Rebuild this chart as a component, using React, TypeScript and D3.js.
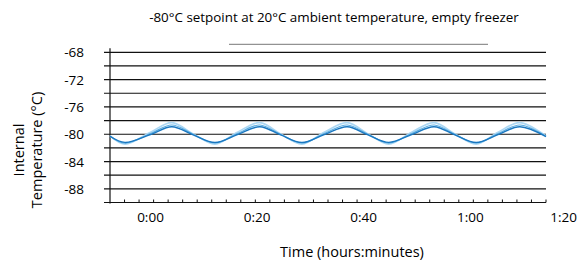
import { useEffect, useRef } from "react";
import * as d3 from "d3";

// time in minutes from 0:00
const times = [-7.6, -4.8, 0.0, 4.0, 8.0, 12.1, 16.3, 20.5, 24.4, 28.4, 32.6, 36.9, 40.8, 44.7, 49.0, 53.2, 57.1, 61.1, 65.2, 69.3, 74.2];

// three probes
const probeDark = [-80.3, -81.2, -80.05, -78.9, -80.1, -81.2, -80.05, -78.9, -80.1, -81.2, -80.05, -78.9, -80.1, -81.2, -80.05, -78.9, -80.1, -81.2, -80.05, -78.9, -80.35];
const probeMid = [-80.3, -81.3, -79.9, -78.65, -80.0, -81.3, -79.9, -78.65, -80.0, -81.3, -79.9, -78.65, -80.0, -81.3, -79.9, -78.65, -80.0, -81.3, -79.9, -78.65, -80.3];
const probeLight = [-80.2, -81.45, -79.7, -78.3, -79.95, -81.45, -79.7, -78.3, -79.95, -81.45, -79.7, -78.3, -79.95, -81.45, -79.7, -78.3, -79.95, -81.45, -79.7, -78.3, -80.25];

const yTickLabels = [-68, -72, -76, -80, -84, -88];
const yGrid = [-68, -70, -72, -74, -76, -78, -80, -82, -84, -86, -88];
const xTickLabels = ["0:00", "0:20", "0:40", "1:00", "1:20"];
const xTickValues = [0, 20, 40, 60, 80];

const title = "-80°C setpoint at 20°C ambient temperature, empty freezer";

export default function App() {
    const ref = useRef<SVGSVGElement>(null);

    useEffect(() => {
        const svg = d3.select(ref.current);
        svg.selectAll("*").remove();

        const font = "'Open Sans', sans-serif";
        const x = d3.scaleLinear().domain([-7.6, 74.2]).range([110, 546]);
        const y = d3.scaleLinear().domain([-90, -68]).range([202.5, 52.3]);

        svg.append("text")
            .attr("x", 334).attr("y", 22)
            .attr("text-anchor", "middle")
            .attr("font-family", font).attr("font-size", 13.4)
            .text(title);

        // stray grey rule under the title
        svg.append("line")
            .attr("x1", 229).attr("x2", 488).attr("y1", 44.3).attr("y2", 44.3)
            .attr("stroke", "#777").attr("stroke-width", 1);

        // horizontal grid
        svg.append("g").selectAll("line")
            .data(yGrid)
            .join("line")
            .attr("x1", 104).attr("x2", 546)
            .attr("y1", d => y(d)).attr("y2", d => y(d))
            .attr("stroke", "#111").attr("stroke-width", 1.2);

        // axes
        svg.append("line")
            .attr("x1", 104).attr("x2", 546).attr("y1", y(-90)).attr("y2", y(-90))
            .attr("stroke", "#111").attr("stroke-width", 1.2);
        svg.append("line")
            .attr("x1", 110).attr("x2", 110).attr("y1", y(-68) - 4).attr("y2", y(-90) + 1)
            .attr("stroke", "#111").attr("stroke-width", 1.2);

        const step = (74.2 + 7.6) / 30;
        svg.append("g").selectAll("line")
            .data(d3.range(1, 31).map(i => -7.6 + i * step))
            .join("line")
            .attr("x1", d => x(d)).attr("x2", d => x(d))
            .attr("y1", y(-90) - 3).attr("y2", y(-90))
            .attr("stroke", "#111").attr("stroke-width", 1);

        svg.append("g")
            .attr("font-family", font).attr("font-size", 13.5)
            .attr("text-anchor", "end")
            .selectAll("text")
            .data(yTickLabels)
            .join("text")
            .attr("x", 84).attr("y", d => y(d) + 5)
            .text(d => d);

        svg.append("g")
            .attr("font-family", font).attr("font-size", 13.5)
            .selectAll("text")
            .data(xTickValues)
            .join("text")
            .attr("text-anchor", (_, i) => i === xTickValues.length - 1 ? "end" : "middle")
            .attr("x", d => x(d))
            .attr("y", 222)
            .text((_, i) => xTickLabels[i]);

        svg.append("text")
            .attr("x", 352).attr("y", 257)
            .attr("text-anchor", "middle")
            .attr("font-family", font).attr("font-size", 14.5)
            .text("Time (hours:minutes)");

        const yt = svg.append("text")
            .attr("transform", "translate(0,150) rotate(-90)")
            .attr("text-anchor", "middle")
            .attr("font-family", font).attr("font-size", 14.5);
        yt.append("tspan").attr("x", 0).attr("y", 24).text("Internal");
        yt.append("tspan").attr("x", 0).attr("y", 42).text("Temperature (°C)");

        const series = [
            { values: probeLight, color: "#acd7f3", width: 1.6 },
            { values: probeMid, color: "#5aade2", width: 1.2 },
            { values: probeDark, color: "#1a77c0", width: 1.4 },
        ];
        const line = d3.line<number>()
            .x((_, i) => x(times[i]))
            .y(d => y(d))
            .curve(d3.curveCatmullRom);
        svg.append("g").attr("fill", "none")
            .selectAll("path")
            .data(series)
            .join("path")
            .attr("stroke", d => d.color)
            .attr("stroke-width", d => d.width)
            .attr("d", d => line(d.values));
    }, []);

    return <svg ref={ref} width={580} height={261}
        style={{ position: "absolute", left: 0, top: 0, background: "#fff" }} />;
}
